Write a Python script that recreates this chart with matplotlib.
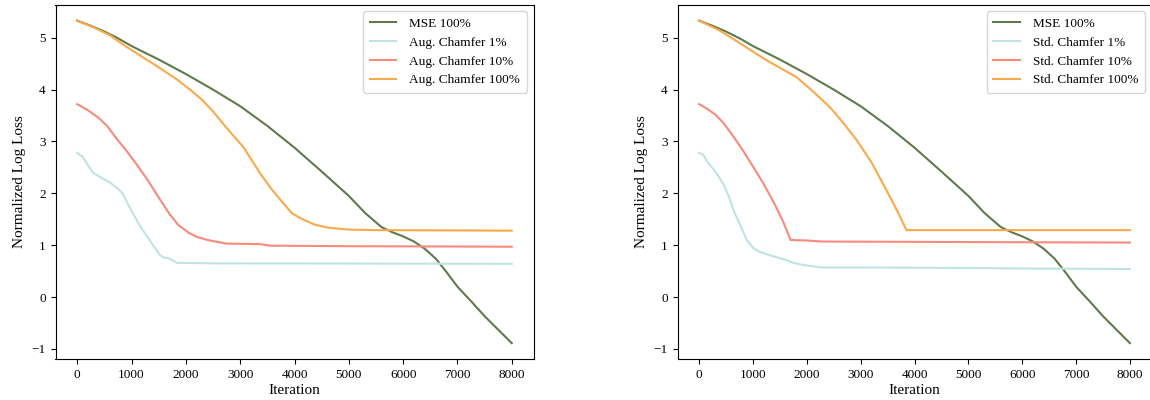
import matplotlib.pyplot as plt

plt.rcParams['font.family'] = ['Liberation Serif', 'DejaVu Serif']
plt.rcParams['mathtext.fontset'] = 'stix'

# MSE 100% (same in both panels)
mse_x = [0, 250, 500, 750, 1000, 1500, 2000, 2500, 3000, 3500, 4000, 4500, 5000,
         5300, 5600, 5800, 6000, 6200, 6400, 6600, 6800, 7000, 7250, 7500, 7750, 8000]
mse_y = [5.33, 5.23, 5.12, 4.99, 4.84, 4.58, 4.3, 4.0, 3.68, 3.3, 2.88, 2.42, 1.95,
         1.62, 1.35, 1.25, 1.17, 1.07, 0.93, 0.74, 0.48, 0.2, -0.08, -0.37, -0.63, -0.89]

# left panel: augmented chamfer
aug1_x = [0, 100, 280, 470, 590, 780, 840, 960, 1150, 1330, 1520, 1600, 1700, 1830,
          2500, 8000]
aug1_y = [2.78, 2.7, 2.41, 2.28, 2.22, 2.06, 1.99, 1.74, 1.38, 1.1, 0.81, 0.76, 0.74,
          0.66, 0.65, 0.64]
aug10_x = [0, 200, 400, 550, 720, 900, 1100, 1300, 1500, 1700, 1770, 1850, 1950,
           2050, 2200, 2400, 2750, 3370, 3570, 5000, 8000]
aug10_y = [3.72, 3.6, 3.45, 3.3, 3.06, 2.83, 2.55, 2.25, 1.92, 1.6, 1.51, 1.4, 1.32,
           1.24, 1.16, 1.1, 1.03, 1.02, 0.99, 0.98, 0.97]
aug100_x = [0, 300, 600, 900, 1200, 1500, 1830, 2100, 2300, 2500, 2750, 3060, 3370,
            3600, 3800, 3950, 4110, 4360, 4600, 5000, 5500, 8000]
aug100_y = [5.33, 5.2, 5.05, 4.83, 4.63, 4.43, 4.2, 3.98, 3.8, 3.58, 3.26, 2.89, 2.38,
            2.05, 1.8, 1.62, 1.52, 1.4, 1.34, 1.3, 1.29, 1.28]

# right panel: standard chamfer
std1_x = [0, 80, 140, 330, 450, 550, 640, 760, 885, 1010, 1130, 1300, 1500, 1630,
          1750, 1870, 2050, 2300, 3000, 5000, 6000, 8000]
std1_y = [2.78, 2.74, 2.63, 2.38, 2.18, 1.95, 1.67, 1.4, 1.1, 0.94, 0.87, 0.81, 0.75,
          0.71, 0.66, 0.63, 0.6, 0.57, 0.57, 0.56, 0.55, 0.54]
std10_x = [0, 150, 300, 450, 600, 800, 1000, 1200, 1400, 1550, 1700, 2000, 2300,
           5000, 8000]
std10_y = [3.72, 3.63, 3.52, 3.36, 3.15, 2.85, 2.52, 2.18, 1.8, 1.48, 1.1, 1.09, 1.07,
           1.06, 1.05]
std100_x = [0, 400, 885, 1200, 1500, 1810, 2100, 2430, 2700, 2930, 3200, 3480, 3700,
            3850, 8000]
std100_y = [5.33, 5.13, 4.81, 4.6, 4.42, 4.24, 3.98, 3.66, 3.33, 3.02, 2.6, 2.06, 1.62,
            1.29, 1.29]

c_mse = '#5f7a4b'
c_1 = '#bfe3e3'
c_10 = '#f88a7b'
c_100 = '#f9a94a'

fig = plt.figure(figsize=(11.5, 4), dpi=100)
ax1 = fig.add_axes([55.5 / 1150, 40.7 / 400, 478 / 1150, 354.8 / 400])
ax2 = fig.add_axes([677.5 / 1150, 40.7 / 400, 474 / 1150, 354.8 / 400])

panels = [
    (ax1, 'Aug.', aug1_x, aug1_y, aug10_x, aug10_y, aug100_x, aug100_y),
    (ax2, 'Std.', std1_x, std1_y, std10_x, std10_y, std100_x, std100_y),
]

for ax, tag, x1, y1, x10, y10, x100, y100 in panels:
    ax.plot(mse_x, mse_y, color=c_mse, lw=1.5, label='MSE 100%')
    ax.plot(x1, y1, color=c_1, lw=1.5, label=tag + ' Chamfer 1%')
    ax.plot(x10, y10, color=c_10, lw=1.5, label=tag + ' Chamfer 10%')
    ax.plot(x100, y100, color=c_100, lw=1.5, label=tag + ' Chamfer 100%')
    ax.set_xlabel('Iteration', fontsize=11, labelpad=2)
    ax.set_ylabel('Normalized Log Loss', fontsize=11)
    ax.set_xticks(range(0, 8001, 1000))
    ax.set_yticks(range(-1, 6))
    ax.tick_params(labelsize=9.5)
    ax.legend(loc='upper right', fontsize=9.5, handletextpad=1.0, borderpad=0.5)

fig.savefig('out.png', dpi=100)
